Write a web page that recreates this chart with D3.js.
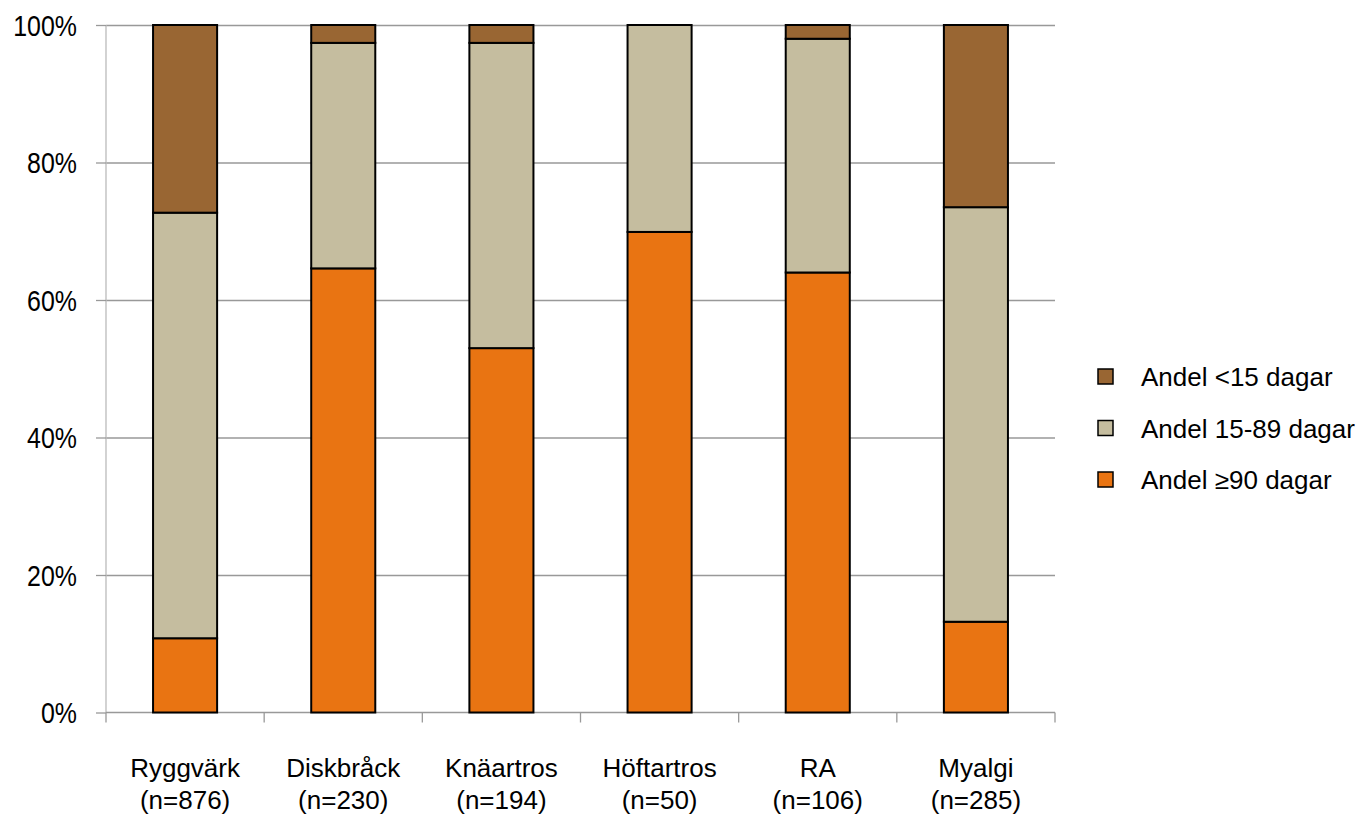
<!DOCTYPE html>
<html><head><meta charset="utf-8">
<script src="https://cdn.jsdelivr.net/npm/d3@7"></script>
<style>body{margin:0;background:#fff}svg{display:block}text{font-family:"Liberation Sans",Arial,sans-serif;fill:#000}</style>
</head><body><svg id="c" width="1363" height="816"></svg>
<script>
const categories = ["Ryggvärk","Diskbråck","Knäartros","Höftartros","RA","Myalgi"];
const nLabels = ["(n=876)","(n=230)","(n=194)","(n=50)","(n=106)","(n=285)"];
const ge90 = [10.8, 64.6, 53.0, 69.9, 64.0, 13.2];
const mid = [61.9, 32.8, 44.4, 30.1, 34.0, 60.3];
const lt15 = [27.3, 2.6, 2.6, 0.0, 2.0, 26.5];
const seriesNames = ["Andel ≥90 dagar","Andel 15-89 dagar","Andel <15 dagar"];
const seriesColors = ["#E97412","#C5BD9F","#996633"];
const yTicks = [0,20,40,60,80,100];

const svg = d3.select("#c");
const m = {l:106, r:308, t:25, b:103.5};
const W = 1363 - m.l - m.r, H = 816 - m.t - m.b;
const g = svg.append("g").attr("transform",`translate(${m.l},${m.t})`);
const x = d3.scaleBand().domain(categories).range([0,W]).paddingInner(0.595).paddingOuter(0.2975);
const y = d3.scaleLinear().domain([0,100]).range([H,0]);

// gridlines
g.append("g").call(d3.axisLeft(y).tickValues(yTicks.filter(d=>d>0)).tickSize(-W).tickFormat(""))
 .call(a=>a.select(".domain").remove())
 .selectAll("line").attr("stroke","#999").attr("stroke-width",1.3);
// y axis
const ya = g.append("g").call(d3.axisLeft(y).tickValues(yTicks).tickSize(10).tickFormat(d=>d+"%"));
ya.select(".domain").attr("stroke","#bbb").attr("stroke-width",1.3).attr("d",`M0,${H}V0`);
ya.selectAll("line").attr("stroke","#999").attr("stroke-width",1.3);
ya.selectAll("text").attr("x",0).attr("dy","0.36em").attr("font-size","29px")
  .attr("transform","translate(-29,0) scale(0.86,1)").attr("text-anchor","end");

// x axis line and boundary ticks
const xa = g.append("g").attr("transform",`translate(0,${H})`);
xa.append("line").attr("x1",0).attr("x2",W).attr("stroke","#999").attr("stroke-width",1.3);
const gap = x.step()-x.bandwidth();
const bounds = categories.map((c,i)=>i===0?0:x(c)-gap/2);
bounds.push(W);
xa.selectAll("line.tk").data(bounds).join("line").attr("class","tk")
  .attr("x1",d=>d).attr("x2",d=>d).attr("y1",0).attr("y2",10).attr("stroke","#999").attr("stroke-width",1.3);

// stacked bars
const rows = categories.map((c,i)=>({cat:c, ge90:ge90[i], mid:mid[i], lt15:lt15[i]}));
const stack = d3.stack().keys(["ge90","mid","lt15"])(rows);
stack.forEach((s,si)=>{
  g.append("g").selectAll("rect").data(s.filter(d=>d[1]-d[0]>0)).join("rect")
   .attr("x",d=>x(d.data.cat)).attr("width",x.bandwidth())
   .attr("y",d=>y(d[1])).attr("height",d=>y(d[0])-y(d[1]))
   .attr("fill",seriesColors[si]).attr("stroke","#000").attr("stroke-width",2);
});

// category labels
const cl = g.append("g");
categories.forEach((c,i)=>{
  const cx = x(c)+x.bandwidth()/2;
  cl.append("text").attr("x",cx).attr("y",H+64).attr("text-anchor","middle").attr("font-size","26px").text(c);
  cl.append("text").attr("x",cx).attr("y",H+96).attr("text-anchor","middle").attr("font-size","26px").text(nLabels[i]);
});

// legend
const legOrder = [2,1,0];
const lg = svg.append("g").attr("transform","translate(1098,369)");
legOrder.forEach((si,k)=>{
  const row = lg.append("g").attr("transform",`translate(0,${k*51.5})`);
  row.append("rect").attr("width",15).attr("height",15).attr("fill",seriesColors[si]).attr("stroke","#000").attr("stroke-width",1.5);
  row.append("text").attr("x",43).attr("y",17).attr("font-size","26px").text(seriesNames[si]);
});
</script></body></html>
